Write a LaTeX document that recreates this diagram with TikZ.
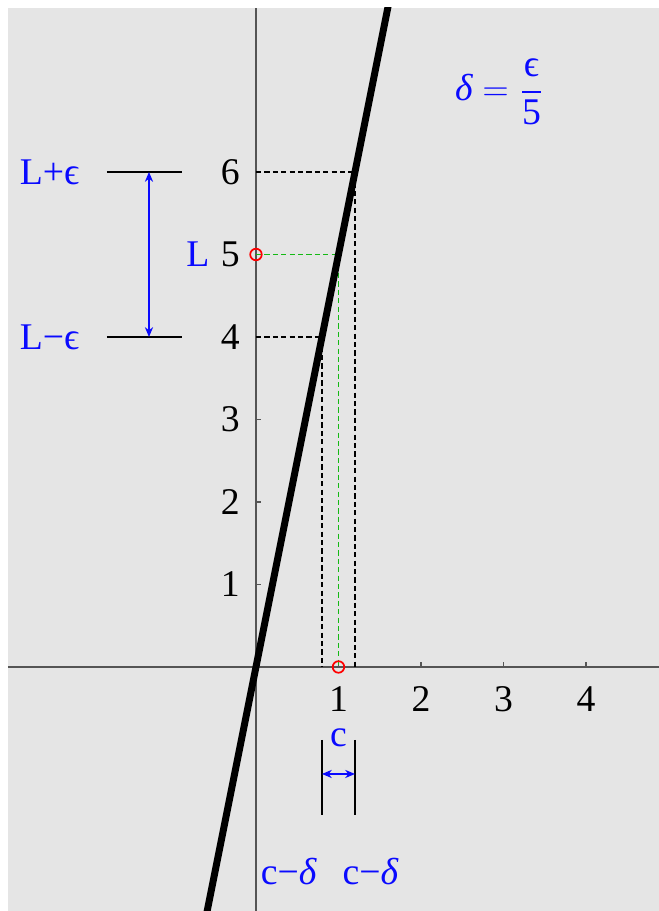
\documentclass[tikz,border=0pt]{standalone}
\usepackage{amsmath}
\usepackage{fontspec}
\setmainfont{Liberation Serif}
\usepackage{tikz}
\usetikzlibrary{arrows.meta}
\definecolor{bggray}{RGB}{229,229,229}
\definecolor{axisgray}{RGB}{85,85,85}
\definecolor{guidegreen}{RGB}{20,185,20}
\definecolor{lblblue}{RGB}{10,10,255}
\tikzset{
  axis/.style={draw=axisgray, line width=0.4pt},
  num/.style={font=\fontsize{13}{15}\selectfont, inner sep=0pt},
  lbl/.style={font=\fontsize{13}{15}\selectfont, text=lblblue, inner sep=0pt},
  guide/.style={draw=#1, line width=0.5pt, dash pattern=on 1.8pt off 1.1pt},
  guide/.default={black},
  graph/.style={draw=black, line width=2.4pt},
  bar/.style={draw=black, line width=0.6pt},
  span/.style={{Stealth[length=1.2mm,width=1mm]}-{Stealth[length=1.2mm,width=1mm]}, draw=lblblue, line width=0.4pt},
  hole/.style={draw=red, circle, minimum size=0.14cm, inner sep=0pt, line width=0.6pt}
}
\begin{document}
\begin{tikzpicture}
  \useasboundingbox (-3.103,-2.958) rectangle (4.885,8.085);
  \fill[bggray] (-3.006,-2.958) rectangle (4.885,7.988);
  % axes
  \coordinate (xl) at (-3.006,0);
  \coordinate (xr) at (4.885,0);
  \coordinate (yb) at (0,-2.958);
  \coordinate (yt) at (0,7.988);
  \draw[axis] (xl) -- (xr);
  \draw[axis] (yb) -- (yt);
  \foreach \i in {1,...,4} {
    \draw[axis] (\i,0) -- ++(0,0.055);
    \node[num, anchor=north] (tx\i) at (\i,-0.23) {\i};
  }
  \foreach \i in {1,...,6} {
    \draw[axis] (0,\i) -- ++(0.055,0);
    \node[num, anchor=east] (ty\i) at (-0.19,\i) {\i};
  }
  % guides
  \coordinate (a6) at (0,6); \coordinate (p6) at (1.2,6); \coordinate (b6) at (1.2,0);
  \coordinate (a4) at (0,4); \coordinate (p4) at (0.8,4); \coordinate (b4) at (0.8,0);
  \coordinate (a5) at (0,5); \coordinate (p5) at (1,5); \coordinate (b5) at (1,0);
  \draw[guide] (a6) -- (p6) -- (b6);
  \draw[guide] (a4) -- (p4) -- (b4);
  \draw[guide=guidegreen, line width=0.6pt] (a5) -- (p5) -- (b5);
  % graph of 5x
  \begin{scope}
    \clip (-3.006,-2.958) rectangle (4.885,7.988);
    \coordinate (gb) at (-0.62,-3.1);
    \coordinate (gt) at (1.64,8.2);
    \draw[graph] (gb) -- (gt);
  \end{scope}
  \node[hole] (Lpt) at (a5) {};
  \node[hole] (cpt) at (b5) {};
  % epsilon band
  \coordinate (e6l) at (-1.806,6); \coordinate (e6r) at (-0.897,6);
  \coordinate (e4l) at (-1.806,4); \coordinate (e4r) at (-0.897,4);
  \coordinate (ea) at (-1.297,6); \coordinate (eb) at (-1.297,4);
  \draw[bar] (e6l) -- (e6r);
  \draw[bar] (e4l) -- (e4r);
  \draw[span] (ea) -- (eb);
  \node[lbl, anchor=east] (Lp) at (-2.133,6) {L+ϵ};
  \node[lbl, anchor=east] (Lm) at (-2.133,4) {L−ϵ};
  \node[lbl, anchor=east] (L) at (-0.558,5) {L};
  % delta band
  \coordinate (d1t) at (0.8,-0.885); \coordinate (d1b) at (0.8,-1.794);
  \coordinate (d2t) at (1.2,-0.885); \coordinate (d2b) at (1.2,-1.794);
  \coordinate (da) at (0.8,-1.297); \coordinate (db) at (1.2,-1.297);
  \draw[bar] (d1t) -- (d1b);
  \draw[bar] (d2t) -- (d2b);
  \draw[span] (da) -- (db);
  \node[lbl, anchor=base] (c) at (1,-0.97) {c};
  \node[lbl, anchor=base] (cm) at (0.40,-2.64) {c−\textit{δ}};
  \node[lbl, anchor=base] (cp) at (1.39,-2.64) {c−\textit{δ}};
  \node[lbl] (dl) at (2.955,6.97) {$\textit{δ} = \dfrac{\text{ϵ}}{\text{5}}$};
\end{tikzpicture}
\end{document}
